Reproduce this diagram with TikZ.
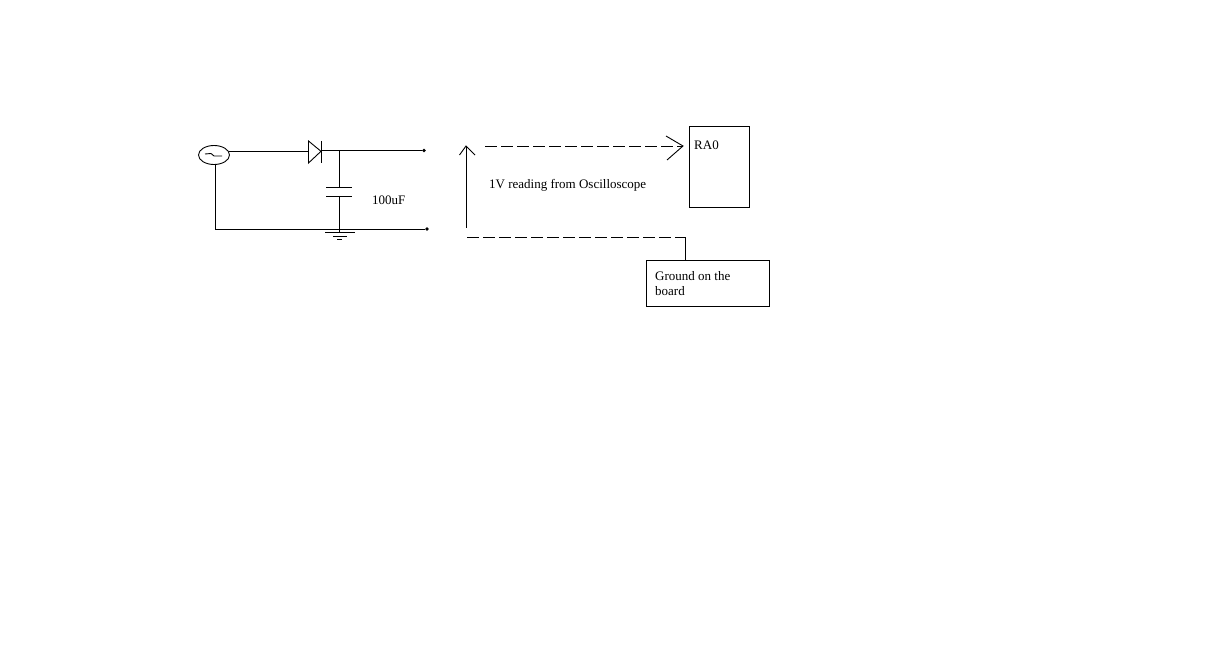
\documentclass[tikz,border=0pt]{standalone}
\usepackage{fontspec}
\usetikzlibrary{shapes.geometric}
\setmainfont{Liberation Serif}
\begin{document}
\begin{tikzpicture}[x=1pt,y=-1pt,
  wire/.style={draw=black,line width=0.9pt},
  dashwire/.style={draw=black,line width=0.9pt,dash pattern=on 11.5pt off 4.5pt},
  lbl/.style={inner sep=0pt,anchor=base west,font=\fontsize{13}{15}\selectfont,text=black},
  boxed/.style={draw=black,line width=0.9pt,inner sep=0pt,anchor=north west},
  term/.style={circle,fill=black,inner sep=0pt,minimum size=3.6pt}]
\useasboundingbox[fill=white] (0,0) rectangle (1218,663);
% source
\node[draw=black,line width=0.9pt,ellipse,minimum width=31pt,minimum height=19pt,inner sep=0pt] (src) at (214,155) {};
\draw[wire] (205,154) -- (211,153.5) -- (214,156) -- (222,156);
% nodes
\coordinate (srcr) at (229,151.3);
\coordinate (srcb) at (215,164.3);
\coordinate (gl) at (215,229);
\coordinate (da) at (308.5,151.3);
\coordinate (dk) at (321,150.5);
\coordinate (jt) at (339,150.5);
\node[term] (t1) at (424,150.5) {};
\node[term] (t2) at (427,229) {};
\coordinate (c1) at (339,187);
\coordinate (c2) at (339,196);
\coordinate (g1) at (339,232);
% wires
\draw[wire] (srcr) -- (da);
\draw[wire] (308.5,141) -- (321,151.3) -- (308.5,163) -- cycle;
\draw[wire] (321.5,141) -- (321.5,163);
\draw[wire] (dk) -- (jt) -- (t1);
\draw[wire] (jt) -- (c1);
\draw[wire] (326,187) -- (352,187);
\draw[wire] (326,196) -- (352,196);
\draw[wire] (c2) -- (g1);
\draw[wire] (srcb) -- (gl) -- (t2);
\draw[wire] (325,232.5) -- (355,232.5);
\draw[wire] (333,236) -- (347,236);
\draw[wire] (337,239.5) -- (342,239.5);
\node[lbl] (cap) at (372,204.5) {100uF};
% right side
\node[boxed,minimum width=59.5pt,minimum height=81pt] (ra) at (689,126.5) {};
\node[lbl] (ratext) at (694,149.5) {RA0};
\node[lbl] (reading) at (489,188.5) {1V reading from Oscilloscope};
\node[boxed,minimum width=123pt,minimum height=46pt] (gnd) at (646,260) {};
\node[lbl] (g1t) at (655,280) {Ground on the};
\node[lbl] (g2t) at (655,295) {board};
% arrows
\coordinate (a1) at (466,228);
\coordinate (a2) at (466,146);
\draw[wire] (a1) -- (a2);
\draw[wire] (459.5,155) -- (a2) -- (475,155);
\coordinate (d1) at (485,146);
\coordinate (d2) at (683,146);
\draw[dashwire] (d1) -- (d2);
\draw[wire] (666,136) -- (d2) -- (667,160);
\coordinate (e1) at (467,237.5);
\coordinate (e2) at (685.5,237.5);
\draw[dashwire] (e1) -- (e2);
\draw[wire] (e2) -- (e2 |- gnd.north);
\end{tikzpicture}
\end{document}
